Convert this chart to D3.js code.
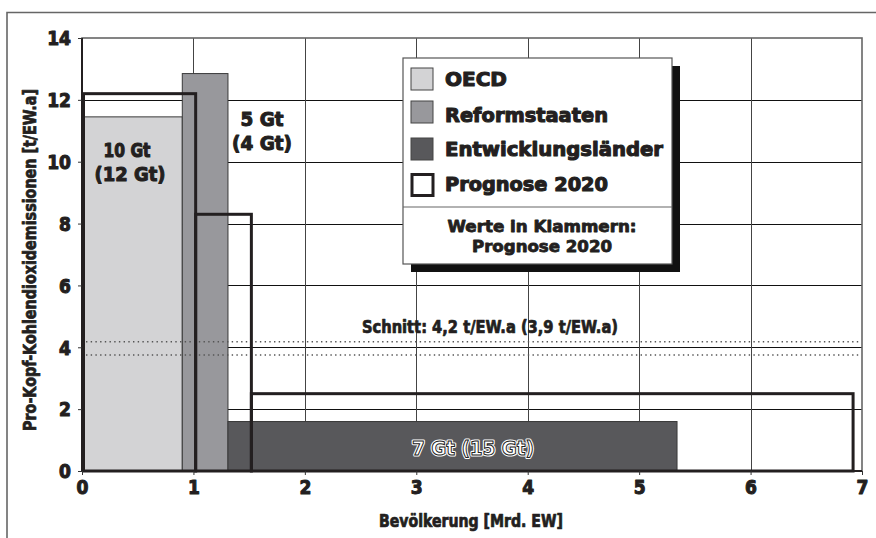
<!DOCTYPE html>
<html><head><meta charset="utf-8">
<script src="https://cdn.jsdelivr.net/npm/d3@7"></script>
<style>
html,body{margin:0;padding:0;background:#fff;}
svg{display:block;}
</style></head>
<body>
<svg id="c" width="876" height="538"></svg>
<script>
// ---- data ----
const groups = ["OECD", "Reformstaaten", "Entwicklungsländer"];
const popNow = [0.9, 0.41, 4.03];          // Mrd. EW
const emitNow = [11.45, 12.85, 1.6];       // t/EW.a
const pop2020 = [1.02, 0.5, 5.4];
const emit2020 = [12.2, 8.3, 2.5];
const barLabels = [["10 Gt", "(12 Gt)"], ["5 Gt", "(4 Gt)"], ["7 Gt (15 Gt)"]];
const meanLines = [4.18, 3.75];
const meanLabel = "Schnitt: 4,2 t/EW.a (3,9 t/EW.a)";
const xTicks = [0, 1, 2, 3, 4, 5, 6, 7];
const yTicks = [0, 2, 4, 6, 8, 10, 12, 14];
const legendItems = ["OECD", "Reformstaaten", "Entwicklungsländer", "Prognose 2020"];
const legendNote = ["Werte in Klammern:", "Prognose 2020"];
const xTitle = "Bevölkerung  [Mrd. EW]";
const yTitle = "Pro-Kopf-Kohlendioxidemissionen  [t/EW.a]";

const fills = ["#d3d3d5", "#98989c", "#58585b"];
const BLACK = "'DejaVu Sans', 'Liberation Sans', Arial, sans-serif";
const NARROW = "'DejaVu Sans Condensed', 'Liberation Sans Narrow', Arial, sans-serif";
const INK = "#231f20";

const svg = d3.select("#c");
const x = d3.scaleLinear().domain([0, 7]).range([82, 862]);
const y = d3.scaleLinear().domain([0, 14]).range([471, 38]);

// outer frame
svg.append("path").attr("d", "M7,540 L7,12.5 L880,12.5")
  .attr("fill", "none").attr("stroke", "#666").attr("stroke-width", 1.6);

// grid
const g = svg.append("g").attr("shape-rendering", "crispEdges");
g.selectAll(".hg").data(yTicks.filter(d => d > 0 && d < 14)).join("line")
  .attr("x1", x(0)).attr("x2", x(7)).attr("y1", d => Math.round(y(d)) + 0.5).attr("y2", d => Math.round(y(d)) + 0.5)
  .attr("stroke", "#111").attr("stroke-width", 1);
g.selectAll(".vg").data(xTicks.filter(d => d > 0 && d < 7)).join("line")
  .attr("y1", y(0)).attr("y2", y(14)).attr("x1", d => Math.round(x(d)) + 0.5).attr("x2", d => Math.round(x(d)) + 0.5)
  .attr("stroke", "#444").attr("stroke-width", 1);
// plot frame
svg.append("rect").attr("x", x(0)).attr("y", y(14)).attr("width", x(7) - x(0)).attr("height", y(0) - y(14))
  .attr("fill", "none").attr("stroke", "#666").attr("stroke-width", 1.6);

// cumulative positions
function cum(arr) { let s = 0; return arr.map(v => { const a = s; s += v; return [a, s]; }); }
const nowPos = cum(popNow), futPos = cum(pop2020);

// current bars
svg.selectAll(".bar").data(groups).join("rect")
  .attr("x", (d, i) => x(nowPos[i][0]))
  .attr("width", (d, i) => x(nowPos[i][1]) - x(nowPos[i][0]))
  .attr("y", (d, i) => y(emitNow[i]))
  .attr("height", (d, i) => y(0) - y(emitNow[i]))
  .attr("fill", (d, i) => fills[i]).attr("stroke", "#3a3a3a").attr("stroke-width", 1);

// mean dotted lines
svg.selectAll(".mean").data(meanLines).join("line")
  .attr("x1", x(0) + 4).attr("x2", x(7) - 2).attr("y1", d => y(d)).attr("y2", d => y(d))
  .attr("stroke", "#555").attr("stroke-width", 1.4).attr("stroke-dasharray", "1.4,3.3");

// forecast outlines
svg.selectAll(".fut").data(groups).join("rect")
  .attr("x", (d, i) => x(futPos[i][0]) + (i === 0 ? 1.5 : 0))
  .attr("width", (d, i) => x(futPos[i][1]) - x(futPos[i][0]) - (i === 0 ? 1.5 : 0))
  .attr("y", (d, i) => y(emit2020[i]))
  .attr("height", (d, i) => y(0) - y(emit2020[i]))
  .attr("fill", "none").attr("stroke", INK).attr("stroke-width", 3);

// axis lines
svg.append("line").attr("x1", x(0)).attr("x2", x(7)).attr("y1", y(0)).attr("y2", y(0))
  .attr("stroke", INK).attr("stroke-width", 2.2);
svg.append("line").attr("x1", x(0)).attr("x2", x(0)).attr("y1", y(0)).attr("y2", y(14))
  .attr("stroke", INK).attr("stroke-width", 2);

// axes
const xAxis = svg.append("g").attr("transform", `translate(0,${y(0)})`)
  .call(d3.axisBottom(x).tickValues(xTicks).tickSize(4).tickFormat(d3.format("d")));
const yAxis = svg.append("g").attr("transform", `translate(${x(0)},0)`)
  .call(d3.axisLeft(y).tickValues(yTicks).tickSize(4).tickFormat(d3.format("d")));
[xAxis, yAxis].forEach(a => {
  a.select(".domain").remove();
  a.selectAll(".tick line").attr("stroke", "#333");
  a.selectAll(".tick text").attr("font-family", NARROW).attr("font-weight", "bold")
    .attr("font-size", 19).attr("fill", INK).attr("stroke", INK).attr("stroke-width", 1)
    .attr("stroke-linejoin", "round");
});
xAxis.selectAll(".tick text").attr("dy", "0.95em").attr("y", 5);
yAxis.selectAll(".tick text").attr("x", -11).attr("dy", "0.36em");

function heavy(sel, w) {
  return sel.attr("fill", INK).attr("stroke", INK).attr("stroke-width", w).attr("stroke-linejoin", "round");
}

// axis titles
heavy(svg.append("text").attr("x", 471).attr("y", 527).attr("text-anchor", "middle")
  .attr("font-family", NARROW).attr("font-weight", "bold").attr("font-size", 17), 0.7)
  .attr("textLength", 184).attr("lengthAdjust", "spacingAndGlyphs").text(xTitle);
heavy(svg.append("text").attr("transform", "translate(36,260) rotate(-90)").attr("text-anchor", "middle")
  .attr("font-family", NARROW).attr("font-weight", "bold").attr("font-size", 17), 0.7)
  .attr("textLength", 342).attr("lengthAdjust", "spacingAndGlyphs").text(yTitle);

// mean label
heavy(svg.append("text").attr("x", 362).attr("y", 333)
  .attr("font-family", NARROW).attr("font-weight", "bold").attr("font-size", 17), 0.7)
  .attr("textLength", 256).attr("lengthAdjust", "spacingAndGlyphs").text(meanLabel);

// bar labels
const lbl = svg.append("g").attr("font-family", BLACK).attr("font-weight", "bold").attr("font-size", 19)
  .attr("text-anchor", "middle");
const bl = [[127, 157, 47], [130, 181, 71], [262, 126, 43], [262, 150, 60]];
[barLabels[0][0], barLabels[0][1], barLabels[1][0], barLabels[1][1]].forEach((t, i) => {
  heavy(lbl.append("text"), 1.1).attr("x", bl[i][0]).attr("y", bl[i][1])
    .attr("textLength", bl[i][2]).attr("lengthAdjust", "spacingAndGlyphs").text(t);
});
// outlined label on dark bar
lbl.append("text").attr("x", 473).attr("y", 455).attr("textLength", 122).attr("lengthAdjust", "spacingAndGlyphs")
  .attr("fill", "#fff").attr("stroke", "#fff").attr("stroke-width", 3.2).attr("stroke-linejoin", "round").text(barLabels[2][0]);
lbl.append("text").attr("x", 473).attr("y", 455).attr("textLength", 122).attr("lengthAdjust", "spacingAndGlyphs")
  .attr("fill", "#fff").attr("stroke", "#222").attr("stroke-width", 1).text(barLabels[2][0]);

// legend
const L = { x: 403, y: 58, w: 269, h: 206 };
svg.append("rect").attr("x", L.x + 8).attr("y", L.y + 8).attr("width", L.w).attr("height", L.h).attr("fill", "#111");
svg.append("rect").attr("x", L.x).attr("y", L.y).attr("width", L.w).attr("height", L.h)
  .attr("fill", "#fff").attr("stroke", "#555").attr("stroke-width", 1.2);
svg.append("line").attr("x1", L.x).attr("x2", L.x + L.w).attr("y1", 207).attr("y2", 207)
  .attr("stroke", "#666").attr("stroke-width", 1.2);
const rowY = [79, 112, 149, 185];
const rowBase = [86, 122, 156, 191];
const rowW = [62, 163, 218, 163];
legendItems.forEach((t, i) => {
  const sw = svg.append("rect").attr("x", 411).attr("y", rowY[i] - 11).attr("width", 22).attr("height", 22);
  if (i < 3) sw.attr("fill", fills[i]).attr("stroke", "#444").attr("stroke-width", 1);
  else sw.attr("x", 412).attr("y", rowY[i] - 10.5).attr("width", 21).attr("height", 21)
    .attr("fill", "#fff").attr("stroke", INK).attr("stroke-width", 3);
  heavy(svg.append("text").attr("x", 445).attr("y", rowBase[i])
    .attr("font-family", BLACK).attr("font-weight", "bold").attr("font-size", 19), 1.1)
    .attr("textLength", rowW[i]).attr("lengthAdjust", "spacingAndGlyphs").text(t);
});
legendNote.forEach((t, i) => {
  heavy(svg.append("text").attr("x", 542).attr("y", 232 + i * 20).attr("text-anchor", "middle")
    .attr("font-family", BLACK).attr("font-weight", "bold").attr("font-size", 15), 0.8)
    .attr("textLength", i === 0 ? 189 : 140).attr("lengthAdjust", "spacingAndGlyphs").text(t);
});
</script>
</body></html>
